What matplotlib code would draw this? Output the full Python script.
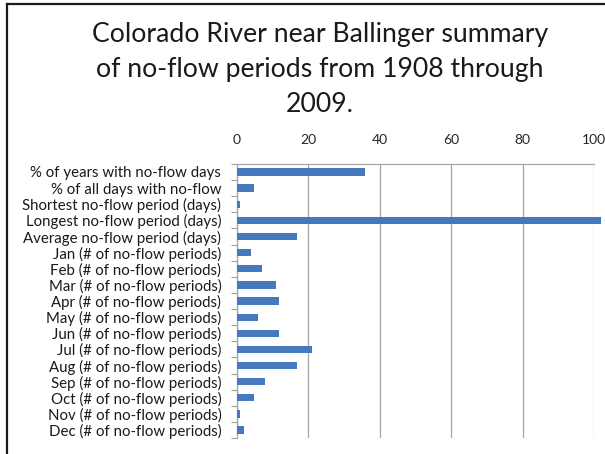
import matplotlib
matplotlib.use('Agg')
import matplotlib.pyplot as plt
from matplotlib.lines import Line2D
import numpy as np

categories = [
    '% of years with no-flow days',
    '% of all days with no-flow',
    'Shortest no-flow period (days)',
    'Longest no-flow period (days)',
    'Average no-flow period (days)',
    'Jan (# of no-flow periods)',
    'Feb (# of no-flow periods)',
    'Mar (# of no-flow periods)',
    'Apr (# of no-flow periods)',
    'May (# of no-flow periods)',
    'Jun (# of no-flow periods)',
    'Jul (# of no-flow periods)',
    'Aug (# of no-flow periods)',
    'Sep (# of no-flow periods)',
    'Oct (# of no-flow periods)',
    'Nov (# of no-flow periods)',
    'Dec (# of no-flow periods)',
]
values = [36, 5, 1, 102, 17, 4, 7, 11, 12, 6, 12, 21, 17, 8, 5, 1, 2]
x_ticks = [0, 20, 40, 60, 80, 100]

plt.rcParams['font.family'] = ['Lato', 'DejaVu Sans']

fig = plt.figure(figsize=(6.05, 4.54), dpi=100)
ax = fig.add_axes([0.391, 0.035, 0.591, 0.604])

y = np.arange(len(categories))
ax.barh(y, values, height=0.45, color='#4579BD', zorder=3, clip_on=False)

ax.set_ylim(len(categories) - 0.5, -0.5)
ax.set_xlim(0, 100)
ax.set_xticks(x_ticks)
ax.xaxis.tick_top()
ax.tick_params(axis='x', length=0, labelsize=10, colors='#262626', pad=13)
ax.set_yticks(y)
ax.set_yticklabels(categories)
ax.tick_params(axis='y', which='major', length=0, labelsize=10.8, colors='#1a1a1a', pad=11)
ax.set_yticks(np.arange(-0.5, len(categories)), minor=True)
ax.tick_params(axis='y', which='minor', length=4, color='#A0A0A0', width=0.8)

ax.grid(axis='x', color='#A6A6A6', linewidth=0.9, zorder=0)
for s in ['bottom', 'right']:
    ax.spines[s].set_visible(False)
for s in ['top', 'left']:
    ax.spines[s].set_color('#A6A6A6')
    ax.spines[s].set_linewidth(0.9)

fig.text(0.529, 0.848, 'Colorado River near Ballinger summary\nof no-flow periods from 1908 through\n2009.',
         ha='center', va='center', fontsize=19.2, color='#1a1a1a', linespacing=1.5)

# chart border (left and top only visible)
fig.add_artist(Line2D([7 / 605, 7 / 605], [0, 1 - 4 / 454], transform=fig.transFigure, color='#1a1a1a', linewidth=1.6))
fig.add_artist(Line2D([7 / 605, 1], [1 - 4 / 454, 1 - 4 / 454], transform=fig.transFigure, color='#1a1a1a', linewidth=1.6))

fig.savefig('out.png', dpi=100)
